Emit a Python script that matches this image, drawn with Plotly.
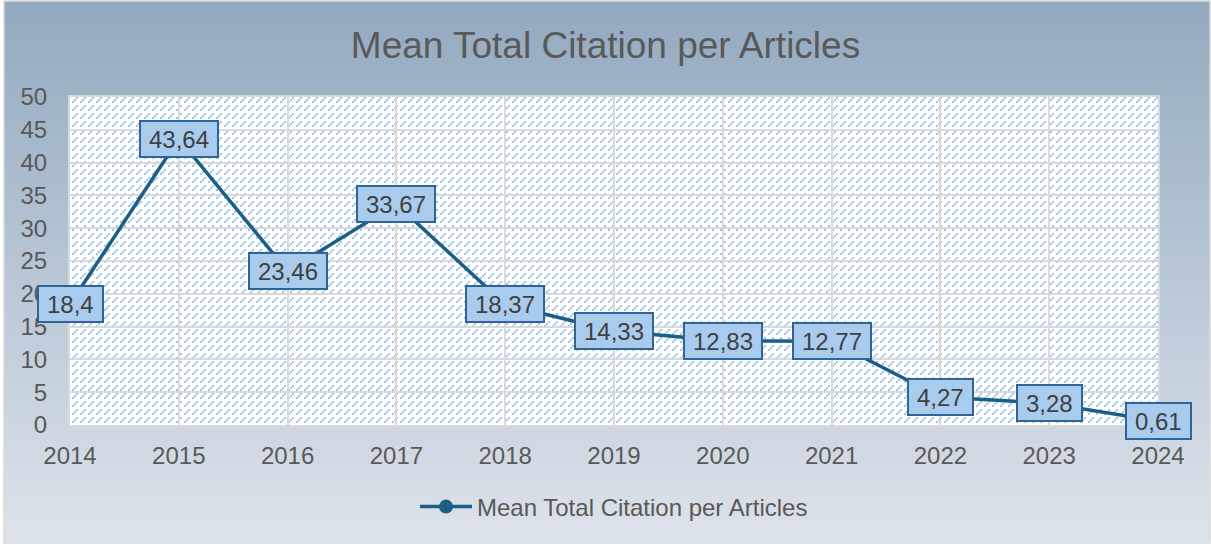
import base64
import plotly.graph_objects as go

# ---- data -------------------------------------------------------------
years = list(range(2014, 2025))
mean_citations = [18.4, 43.64, 23.46, 33.67, 18.37, 14.33, 12.83, 12.77, 4.27, 3.28, 0.61]
value_labels = [f"{v}".replace(".", ",") for v in mean_citations]
y_ticks = list(range(0, 55, 5))
series_name = "Mean Total Citation per Articles"

# ---- geometry ---------------------------------------------------------
FIG_W, FIG_H = 1211, 545
M_L, M_R, M_T, M_B = 70, 53, 97, 120
PLOT_W = FIG_W - M_L - M_R
PLOT_H = FIG_H - M_T - M_B

FONT = "Liberation Sans, Arial, sans-serif"
TEXT_GREY = "#595959"
GRID_GREY = "#D9D9D9"
LINE_BLUE = "#1B5E86"
BOX_FILL = "#A9CBEE"
BOX_EDGE = "#2F6497"
TICK_SIZE = 24


def px_to_paper_x(px):
    return (px - M_L) / PLOT_W


def px_to_paper_y(py):
    return (FIG_H - M_B - py) / PLOT_H


def svg_uri(svg):
    return "data:image/svg+xml;base64," + base64.b64encode(svg.encode()).decode()


# chart-area background: vertical blue-grey gradient
bg_w, bg_h = 1206, 542
gradient_svg = f"""<svg xmlns="http://www.w3.org/2000/svg" width="{bg_w}" height="{bg_h}">
<defs><linearGradient id="g" x1="0" y1="0" x2="0" y2="1">
<stop offset="0" stop-color="#93A9C0"/><stop offset="1" stop-color="#DDE3EA"/>
</linearGradient></defs>
<rect width="100%" height="100%" fill="url(#g)"/></svg>"""

# plot-area fill: dashed upward-diagonal pattern
pattern_svg = f"""<svg xmlns="http://www.w3.org/2000/svg" width="{PLOT_W}" height="{PLOT_H}" shape-rendering="crispEdges">
<defs><pattern id="p" x="0" y="0" width="8" height="8" patternUnits="userSpaceOnUse">
<rect width="8" height="8" fill="#FFFFFF"/>
<rect x="6" y="0" width="2" height="2" fill="#9DC3E6"/>
<rect x="4" y="2" width="2" height="2" fill="#9DC3E6"/>
<rect x="2" y="4" width="2" height="2" fill="#9DC3E6"/>
</pattern></defs>
<rect width="100%" height="100%" fill="url(#p)"/></svg>"""

fig = go.Figure()

fig.add_trace(go.Scatter(
    x=years,
    y=mean_citations,
    mode="lines+markers",
    name=series_name,
    line=dict(color=LINE_BLUE, width=3.5),
    marker=dict(color=LINE_BLUE, size=14),
    hoverinfo="x+y",
    cliponaxis=False,
))

# value labels in boxes centred on each point
pad_space = "\u2006"
for x, y, lab in zip(years, mean_citations, value_labels):
    fig.add_annotation(
        x=x, y=y, xref="x", yref="y",
        text=f"{pad_space}{lab}{pad_space}",
        showarrow=False,
        xanchor="center", yanchor="middle",
        font=dict(family=FONT, size=24, color="#404040"),
        bgcolor=BOX_FILL,
        bordercolor=BOX_EDGE,
        borderwidth=2,
        borderpad=4,
        height=26,
        valign="middle",
    )

fig.update_layout(
    width=FIG_W,
    height=FIG_H,
    autosize=False,
    margin=dict(l=M_L, r=M_R, t=M_T, b=M_B, pad=0, autoexpand=False),
    paper_bgcolor="#FFFFFF",
    plot_bgcolor="rgba(0,0,0,0)",
    font=dict(family=FONT, color=TEXT_GREY, size=TICK_SIZE),
    title=dict(
        text=series_name,
        x=0.5, xref="container", xanchor="center",
        y=1 - 45 / FIG_H, yref="container", yanchor="middle",
        font=dict(family=FONT, size=37, color=TEXT_GREY),
    ),
    xaxis=dict(
        range=[years[0], years[-1]],
        tickmode="array",
        tickvals=years,
        ticktext=[str(y) for y in years],
        tickangle=0,
        automargin=False,
        showgrid=True, gridcolor=GRID_GREY, gridwidth=2,
        showline=True, linecolor=GRID_GREY, linewidth=2, mirror=True,
        zeroline=False,
        ticks="",
        ticklabelstandoff=8,
        tickfont=dict(family=FONT, size=TICK_SIZE, color=TEXT_GREY),
        fixedrange=True,
    ),
    yaxis=dict(
        range=[0, 50],
        tickmode="array",
        tickvals=y_ticks,
        ticktext=[str(v) for v in y_ticks],
        automargin=False,
        showgrid=True, gridcolor=GRID_GREY, gridwidth=2,
        showline=True, linecolor=GRID_GREY, linewidth=2, mirror=True,
        zeroline=False,
        ticks="",
        ticklabelstandoff=16,
        tickfont=dict(family=FONT, size=TICK_SIZE, color=TEXT_GREY),
        fixedrange=True,
    ),
    showlegend=True,
    legend=dict(
        orientation="h",
        x=0.5, xanchor="center",
        y=px_to_paper_y(507), yanchor="middle",
        font=dict(family=FONT, size=TICK_SIZE, color=TEXT_GREY),
        bgcolor="rgba(0,0,0,0)",
        itemwidth=52,
    ),
    images=[
        dict(
            source=svg_uri(gradient_svg),
            xref="paper", yref="paper",
            x=px_to_paper_x(4), y=px_to_paper_y(1),
            sizex=bg_w / PLOT_W, sizey=bg_h / PLOT_H,
            xanchor="left", yanchor="top",
            sizing="stretch", layer="below",
        ),
        dict(
            source=svg_uri(pattern_svg),
            xref="paper", yref="paper",
            x=0, y=1, sizex=1, sizey=1,
            xanchor="left", yanchor="top",
            sizing="stretch", layer="below",
        ),
    ],
    shapes=[
        dict(
            type="rect", xref="paper", yref="paper",
            x0=px_to_paper_x(4), x1=px_to_paper_x(1210),
            y0=px_to_paper_y(543), y1=px_to_paper_y(1),
            line=dict(color=GRID_GREY, width=1.5),
            fillcolor="rgba(0,0,0,0)", layer="below",
        )
    ],
)

fig.write_html("out.html")
